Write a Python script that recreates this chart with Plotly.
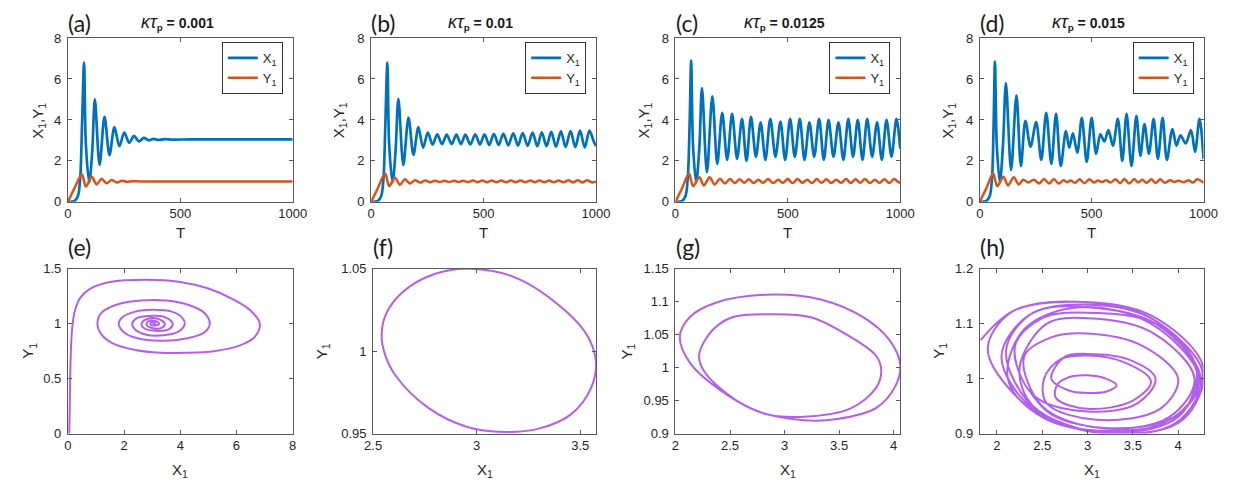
import plotly.graph_objects as go

# ---------------- data ----------------
# (a) kappa*tau_p = 0.001
TA_X = [0, 30, 45, 55, 63, 72, 80, 95, 108, 120, 141, 163, 185, 207, 229, 251, 273, 294, 316, 338,
        360, 380, 402, 430, 470, 550, 1000]
XA = [0, 0.05, 0.3, 1.2, 3.8, 6.8, 2.8, 0.95, 2.4, 5.0, 1.8, 4.15, 2.28, 3.65, 2.72, 3.38, 2.88, 3.22, 2.95, 3.12,
      3.0, 3.08, 3.02, 3.06, 3.04, 3.05, 3.05]
TA_Y = [0, 30, 62, 80, 106, 128, 150, 172, 195, 217, 240, 262, 285, 320, 1000]
YA = [0, 0.68, 1.35, 0.75, 1.22, 0.85, 1.13, 0.91, 1.07, 0.95, 1.03, 0.98, 1.01, 1.0, 1.0]

# (b) kappa*tau_p = 0.01
TB_X = [0, 30, 45, 55, 63, 72, 80, 95, 108, 121, 143, 166, 188, 210, 231, 252, 273, 294, 315, 336,
        358, 379, 399, 419, 441, 463, 484, 504, 525, 546, 567, 588, 610, 632, 653, 674, 696, 718, 739, 759,
        780, 801, 822, 844, 865, 887, 908, 929, 950, 971, 990, 1000]
XB = [0, 0.05, 0.3, 1.2, 3.8, 6.8, 2.8, 0.95, 2.4, 5.03, 1.8, 4.12, 2.3, 3.65, 2.65, 3.38, 2.8, 3.3, 2.82, 3.28,
      2.82, 3.28, 2.82, 3.28, 2.8, 3.3, 2.8, 3.3, 2.78, 3.32, 2.78, 3.33, 2.76, 3.35, 2.75, 3.36, 2.74, 3.38, 2.72, 3.4,
      2.72, 3.42, 2.7, 3.44, 2.68, 3.46, 2.67, 3.48, 2.66, 3.48, 2.95, 2.72]
TB_Y = [0, 30, 62, 80, 106, 128, 150, 172, 195, 217, 240, 262, 284, 305, 326, 347, 369, 389, 409, 430,
        453, 473, 494, 515, 536, 557, 578, 600, 622, 643, 664, 686, 708, 728, 749, 770, 791, 812, 834, 855,
        877, 898, 919, 940, 961, 982, 1000]
YB = [0, 0.68, 1.38, 0.77, 1.18, 0.83, 1.1, 0.9, 1.06, 0.94, 1.04, 0.96, 1.035, 0.965, 1.035, 0.965, 1.035, 0.965,
      1.035, 0.965, 1.038, 0.962, 1.038, 0.962, 1.04, 0.96, 1.04, 0.96, 1.042, 0.958, 1.042, 0.958, 1.045, 0.955,
      1.045, 0.955, 1.047, 0.953, 1.047, 0.953, 1.05, 0.952, 1.05, 0.951, 1.05, 0.951, 1.0]

# (c) kappa*tau_p = 0.0125
TC_X = [0, 30, 45, 55, 63, 70, 78, 92, 106, 118, 140, 164, 186, 208, 230, 252, 274, 296, 316, 336,
        358, 379, 400, 422, 445, 467, 488, 510, 531, 553, 574, 596, 617, 639, 660, 681, 703, 725, 747, 769,
        790, 811, 832, 853, 875, 897, 918, 939, 961, 983, 1000]
XC = [0, 0.05, 0.3, 1.2, 3.8, 6.9, 2.8, 0.95, 2.6, 5.55, 1.45, 5.15, 1.85, 4.35, 2.05, 4.3, 2.1, 4.05, 2.0, 4.15,
      2.2, 3.88, 2.05, 4.05, 2.2, 3.92, 2.05, 4.05, 2.2, 4.05, 2.05, 3.88, 2.2, 4.05, 2.05, 4.0, 2.2, 3.88, 2.05, 4.05,
      2.2, 4.0, 2.05, 4.05, 2.2, 3.88, 2.05, 4.0, 2.2, 4.05, 2.6]
TC_Y = [0, 30, 60, 78, 106, 126, 152, 174, 198, 220, 242, 264, 286, 306, 326, 348, 369, 390, 412, 435,
        457, 478, 500, 521, 543, 564, 586, 607, 629, 650, 671, 693, 715, 737, 759, 780, 801, 822, 843, 865,
        887, 908, 929, 951, 973, 990, 1000]
YC = [0, 0.68, 1.38, 0.77, 1.2, 0.8, 1.2, 0.85, 1.13, 0.9, 1.12, 0.92, 1.1, 0.93, 1.1, 0.92, 1.08, 0.93, 1.11, 0.92,
      1.08, 0.93, 1.11, 0.92, 1.11, 0.93, 1.08, 0.92, 1.11, 0.93, 1.1, 0.92, 1.08, 0.93, 1.11, 0.92, 1.1, 0.93, 1.11,
      0.92, 1.08, 0.93, 1.1, 0.92, 1.11, 0.98, 0.93]

# (d) kappa*tau_p = 0.015
TD_X = [0, 30, 45, 55, 62, 68, 76, 90, 104, 117, 140, 164, 184, 204, 227, 252, 275, 297, 320, 341,
        362, 385, 400, 416, 436, 456, 478, 500, 520, 539, 557, 575, 595, 617, 637, 656, 678, 700, 718, 736,
        756, 777, 796, 817, 836, 861, 879, 897, 920, 944, 962, 982, 1000]
XD = [0, 0.05, 0.3, 1.2, 3.8, 6.85, 2.8, 0.95, 2.8, 5.8, 1.55, 5.2, 1.75, 3.95, 2.7, 3.9, 2.05, 4.35, 1.85, 4.3,
      1.75, 3.45, 2.65, 3.35, 2.4, 4.1, 1.95, 4.1, 2.35, 3.3, 2.95, 3.5, 2.75, 4.05, 2.0, 4.3, 1.75, 4.2, 2.25, 3.8,
      2.35, 4.05, 2.1, 4.1, 2.05, 3.55, 2.75, 3.25, 2.85, 3.5, 2.45, 4.05, 2.1]
TD_Y = [0, 30, 60, 78, 106, 126, 152, 174, 194, 217, 242, 265, 287, 310, 331, 352, 375, 390, 406, 426,
        446, 468, 490, 510, 529, 547, 565, 585, 607, 627, 646, 668, 690, 708, 726, 746, 767, 786, 807, 826,
        851, 869, 887, 910, 934, 952, 972, 1000]
YD = [0, 0.68, 1.38, 0.77, 1.22, 0.8, 1.2, 0.85, 1.08, 0.95, 1.08, 0.9, 1.12, 0.9, 1.12, 0.9, 1.05, 0.96, 1.04, 0.93,
      1.1, 0.91, 1.1, 0.94, 1.04, 0.97, 1.05, 0.95, 1.1, 0.91, 1.12, 0.9, 1.11, 0.94, 1.08, 0.93, 1.1, 0.92, 1.1, 0.93,
      1.05, 0.97, 1.03, 0.96, 1.05, 0.94, 1.1, 0.93]

# (e) phase portrait, kappa*tau_p = 0.001
EX = [0.05, 0.07, 0.1, 0.15, 0.25, 0.45, 0.8, 1.5, 2.8, 4.0, 5.0, 5.9, 6.5, 6.83, 6.65, 6.1, 5.2, 4.2, 3.3, 2.4,
      1.6, 1.2, 1.05, 1.2, 1.7, 2.6, 3.5, 4.3, 4.85, 5.05, 4.85, 4.3, 3.4, 2.6, 2.05, 1.81, 1.95, 2.4, 3.0, 3.7,
      4.05, 4.16, 3.95, 3.4, 2.8, 2.38, 2.29, 2.45, 2.9, 3.45, 3.73, 3.6, 3.1, 2.7, 2.62, 2.8, 3.2, 3.45, 3.35, 3.0,
      2.8, 2.85, 3.1, 3.25, 3.15, 2.95, 2.95, 3.05, 3.1, 3.05, 3.05]
EY = [0.0, 0.3, 0.7, 0.95, 1.12, 1.24, 1.32, 1.38, 1.40, 1.38, 1.32, 1.22, 1.12, 1.0, 0.88, 0.8, 0.75, 0.735, 0.735,
      0.76, 0.82, 0.9, 1.0, 1.1, 1.17, 1.21, 1.21, 1.17, 1.1, 1.0, 0.92, 0.87, 0.845, 0.86, 0.91, 1.0, 1.06, 1.11,
      1.127, 1.11, 1.06, 1.0, 0.93, 0.895, 0.9, 0.95, 1.0, 1.05, 1.07, 1.06, 1.0, 0.95, 0.935, 0.96, 1.0, 1.04, 1.045,
      1.0, 0.965, 0.96, 0.99, 1.02, 1.025, 1.0, 0.985, 0.99, 1.01, 1.01, 1.0, 0.995, 1.0]

# (f) phase portrait, kappa*tau_p = 0.01
FX = [2.969, 3.19, 3.426, 3.536, 3.576, 3.552, 3.457, 3.3, 3.135, 2.954, 2.765, 2.607, 2.556, 2.541, 2.562, 2.639,
      2.796, 2.969]
FY = [1.05, 1.0445, 1.0248, 1.009, 0.9933, 0.9776, 0.9618, 0.953, 0.951, 0.954, 0.9657, 0.9854, 0.9985, 1.01,
      1.0225, 1.0355, 1.0468, 1.05]

# (g) phase portrait, kappa*tau_p = 0.0125
GX = [2.82, 2.43, 2.13, 2.04, 2.13, 2.37, 2.88, 3.33, 3.72, 3.96, 4.06, 4.02, 3.84, 3.48, 3.18, 2.73, 2.37, 2.234,
      2.22, 2.34, 2.52, 2.85, 3.24, 3.60, 3.84, 3.886, 3.84, 3.60, 3.18, 2.82]
GY = [0.930, 0.9637, 1.008, 1.047, 1.0765, 1.0985, 1.1108, 1.1034, 1.0765, 1.042, 1.005, 0.9735, 0.939, 0.922,
      0.920, 0.9353, 0.9745, 1.003, 1.0225, 1.057, 1.0765, 1.081, 1.0765, 1.047, 1.0176, 0.9956, 0.9696, 0.9377,
      0.9255, 0.930]

# (h) phase portrait, kappa*tau_p = 0.015
HX = [1.82, 2.2, 2.9, 3.7, 4.27, 4.0, 3.25, 2.4,
      2.05, 2.35, 2.95, 3.75, 4.22, 3.95, 3.2, 2.45,
      2.1, 2.4, 3.0, 3.75, 4.25, 3.98, 3.2, 2.4,
      2.25, 2.55, 3.0, 3.7, 4.18, 3.9, 3.15, 2.5,
      2.3, 2.6, 3.0, 3.6, 4.0, 3.8, 3.1, 2.55,
      2.52, 2.7, 3.0, 3.4, 3.7, 3.5, 3.0, 2.65,
      2.67, 2.8, 3.0, 3.2, 3.32, 3.2, 3.0, 2.8,
      2.6, 2.75, 3.0, 3.45, 3.75, 3.55, 3.0, 2.4,
      2.2, 2.5, 3.0, 3.75, 4.2, 4.0, 3.3, 2.5,
      1.9, 2.15, 2.85, 3.7, 4.28, 4.05, 3.3, 2.45,
      2.12, 2.3, 2.9, 3.7, 4.23, 3.95, 3.2, 2.6,
      2.35]
HY = [1.07, 1.125, 1.14, 1.11, 1.01, 0.935, 0.9, 0.945,
      1.04, 1.115, 1.135, 1.105, 1.0, 0.925, 0.903, 0.94,
      1.05, 1.12, 1.13, 1.1, 1.0, 0.92, 0.9, 0.95,
      1.02, 1.1, 1.11, 1.085, 1.0, 0.93, 0.91, 0.95,
      1.04, 1.075, 1.082, 1.06, 1.0, 0.945, 0.925, 0.955,
      1.0, 1.035, 1.042, 1.03, 0.995, 0.96, 0.945, 0.965,
      0.99, 1.003, 1.006, 1.0, 0.988, 0.976, 0.974, 0.978,
      1.0, 1.04, 1.045, 1.035, 1.0, 0.955, 0.94, 0.97,
      1.06, 1.11, 1.12, 1.1, 1.02, 0.93, 0.905, 0.93,
      1.05, 1.12, 1.14, 1.115, 1.02, 0.925, 0.9, 0.935,
      1.0, 1.09, 1.13, 1.1, 1.0, 0.93, 0.91, 0.935,
      0.98]

TITLES = ["0.001", "0.01", "0.0125", "0.015"]
PANEL_TOP = ["(a)", "(b)", "(c)", "(d)"]
PANEL_BOT = ["(e)", "(f)", "(g)", "(h)"]

T_TICKS = [0, 500, 1000]
XY_TICKS = [0, 2, 4, 6, 8]
E_XTICKS = [0, 2, 4, 6, 8]
E_YTICKS = [0, 0.5, 1, 1.5]
E_YTEXT = ["0", "0.5", "1", "1.5"]
F_XTICKS = [2.5, 3, 3.5]
F_XTEXT = ["2.5", "3", "3.5"]
F_YTICKS = [0.95, 1, 1.05]
F_YTEXT = ["0.95", "1", "1.05"]
G_XTICKS = [2, 2.5, 3, 3.5, 4]
G_XTEXT = ["2", "2.5", "3", "3.5", "4"]
G_YTICKS = [0.9, 0.95, 1, 1.05, 1.1, 1.15]
G_YTEXT = ["0.9", "0.95", "1", "1.05", "1.1", "1.15"]
H_XTICKS = [2, 2.5, 3, 3.5, 4]
H_XTEXT = ["2", "2.5", "3", "3.5", "4"]
H_YTICKS = [0.9, 1, 1.1, 1.2]
H_YTEXT = ["0.9", "1", "1.1", "1.2"]

# ---------------- figure ----------------
W, H = 1246, 491
BLUE = "#0072BD"
ORANGE = "#D95319"
PURPLE = "rgb(178,96,235)"
AXC = "#5a5a5a"
FONT = "Liberation Sans, Arial, sans-serif"


def fx(p):
    return p / W


def fy(p):
    return 1 - p / H


cols_top = [(60, 289), (369, 598), (679, 908), (989, 1217)]
cols_bot = [(60, 289), (371, 598), (679, 908), (989, 1217)]
row_top = (32, 201)
row_bot = (270, 440)

fig = go.Figure()

top_data = [(TA_X, XA, TA_Y, YA), (TB_X, XB, TB_Y, YB), (TC_X, XC, TC_Y, YC), (TD_X, XD, TD_Y, YD)]
for i, (tx, xs, ty, ys) in enumerate(top_data):
    xa = "x" if i == 0 else f"x{i+1}"
    ya = "y" if i == 0 else f"y{i+1}"
    lg = "legend" if i == 0 else f"legend{i+1}"
    fig.add_trace(go.Scatter(x=tx, y=xs, mode="lines", line=dict(color=BLUE, width=2.7, shape="spline", smoothing=0.9),
                             name="X<sub>1</sub>", xaxis=xa, yaxis=ya, legend=lg))
    fig.add_trace(go.Scatter(x=ty, y=ys, mode="lines", line=dict(color=ORANGE, width=2.5, shape="spline", smoothing=0.9),
                             name="Y<sub>1</sub>", xaxis=xa, yaxis=ya, legend=lg))

bot_data = [(EX, EY), (FX, FY), (GX, GY), (HX, HY)]
for i, (xs, ys) in enumerate(bot_data):
    fig.add_trace(go.Scatter(x=xs, y=ys, mode="lines", line=dict(color=PURPLE, width=2.0, shape="spline", smoothing=1.0),
                             showlegend=False, xaxis=f"x{i+5}", yaxis=f"y{i+5}"))

axis_common = dict(showline=True, linecolor=AXC, linewidth=1, mirror="ticks", ticks="inside", ticklen=4,
                   tickcolor=AXC, showgrid=False, zeroline=False, fixedrange=True,
                   tickfont=dict(family=FONT, size=13, color="#262626"))

layout = dict(width=W, height=H, margin=dict(l=0, r=0, t=0, b=0), paper_bgcolor="white",
              plot_bgcolor="white", showlegend=True, font=dict(family=FONT, color="#262626"))

for i in range(4):
    n = i + 1
    xk = "xaxis" if n == 1 else f"xaxis{n}"
    yk = "yaxis" if n == 1 else f"yaxis{n}"
    l, r = cols_top[i]
    layout[xk] = dict(axis_common, domain=[fx(l), fx(r)], range=[0, 1000], tickvals=T_TICKS,
                      anchor="y" if n == 1 else f"y{n}")
    layout[yk] = dict(axis_common, domain=[fy(row_top[1]), fy(row_top[0])], range=[0, 8], tickvals=XY_TICKS,
                      anchor="x" if n == 1 else f"x{n}", ticklabelstandoff=3)
    lgk = "legend" if n == 1 else f"legend{n}"
    layout[lgk] = dict(x=fx(r - 10), y=fy(row_top[0] + 4), xanchor="right", yanchor="top",
                       bordercolor="#333333", borderwidth=1, bgcolor="white",
                       font=dict(family=FONT, size=13, color="#262626"), tracegroupgap=0, itemwidth=30)

bot_axes = [
    (dict(range=[0, 8], tickvals=E_XTICKS), dict(range=[0, 1.5], tickvals=E_YTICKS, ticktext=E_YTEXT)),
    (dict(range=[2.5, 3.576], tickvals=F_XTICKS, ticktext=F_XTEXT), dict(range=[0.95, 1.05], tickvals=F_YTICKS, ticktext=F_YTEXT)),
    (dict(range=[2, 4.06], tickvals=G_XTICKS, ticktext=G_XTEXT), dict(range=[0.9, 1.15], tickvals=G_YTICKS, ticktext=G_YTEXT)),
    (dict(range=[1.81, 4.28], tickvals=H_XTICKS, ticktext=H_XTEXT), dict(range=[0.9, 1.2], tickvals=H_YTICKS, ticktext=H_YTEXT)),
]
for i in range(4):
    n = i + 5
    l, r = cols_bot[i]
    xs, ys = bot_axes[i]
    layout[f"xaxis{n}"] = dict(axis_common, domain=[fx(l), fx(r)], anchor=f"y{n}", **xs)
    layout[f"yaxis{n}"] = dict(axis_common, domain=[fy(row_bot[1]), fy(row_bot[0])], anchor=f"x{n}",
                               ticklabelstandoff=3, **ys)

ann = []
label_font = dict(family="Lato, Open Sans, sans-serif", size=23, color="#1a1a1a")
title_font = dict(family=FONT, size=14, color="#1a1a1a")
axt_font = dict(family=FONT, size=15, color="#262626")
top_yoff = [30, 32, 32, 32]
bot_yoff = [40, 52, 49, 41]
for i in range(4):
    l, r = cols_top[i]
    ann.append(dict(text=PANEL_TOP[i], x=fx(l - 2), y=fy(16), xanchor="left", yanchor="middle", showarrow=False,
                    xref="paper", yref="paper", font=label_font))
    ann.append(dict(text="<span style='font-size:18px'><i>κτ</i></span><b><sub>p</sub> = " + TITLES[i] + "</b>",
                    x=fx((l + r) / 2 - 3), y=fy(16),
                    xanchor="center", yanchor="middle", showarrow=False, xref="paper", yref="paper", font=title_font))
    ann.append(dict(text="T", x=fx((l + r) / 2), y=fy(233), xanchor="center", yanchor="middle", showarrow=False,
                    xref="paper", yref="paper", font=axt_font))
    ann.append(dict(text="X<sub>1</sub>,Y<sub>1</sub>", x=fx(l - top_yoff[i]), y=fy(117), xanchor="center",
                    yanchor="middle", textangle=-90, showarrow=False, xref="paper", yref="paper", font=axt_font))
    l, r = cols_bot[i]
    ann.append(dict(text=PANEL_BOT[i], x=fx(l - 2), y=fy(248), xanchor="left", yanchor="middle", showarrow=False,
                    xref="paper", yref="paper", font=label_font))
    ann.append(dict(text="X<sub>1</sub>", x=fx((l + r) / 2), y=fy(478), xanchor="center", yanchor="middle",
                    showarrow=False, xref="paper", yref="paper", font=axt_font))
    ann.append(dict(text="Y<sub>1</sub>", x=fx(l - bot_yoff[i]), y=fy(355), xanchor="center", yanchor="middle",
                    textangle=-90, showarrow=False, xref="paper", yref="paper", font=axt_font))
layout["annotations"] = ann

fig.update_layout(**layout)
fig.write_html("out.html", config={"displayModeBar": False},
               post_script="document.body.style.margin='0';")
